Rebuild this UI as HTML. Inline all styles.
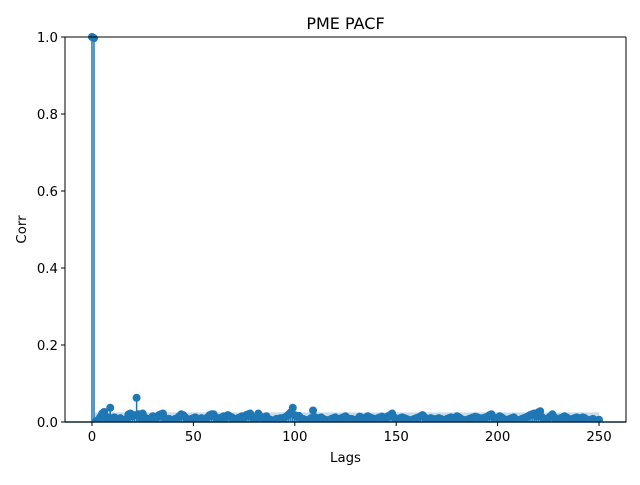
<!DOCTYPE html>
<html><head><meta charset="utf-8"><style>
body{margin:0;background:#fff}
svg text{font-family:"DejaVu Sans","Liberation Sans",sans-serif;fill:#000}
</style></head><body>
<svg id="chart" width="640" height="480">
<text x="345.5" y="29" font-size="16" text-anchor="middle">PME PACF</text>
<text x="345.5" y="462" font-size="13.3" text-anchor="middle">Lags</text>
<text transform="translate(26,229.5) rotate(-90)" font-size="13.3" text-anchor="middle">Corr</text>
<g id="plot"></g>
</svg>
<script>
const lags=[];for(let i=0;i<=250;i++)lags.push(i);
const values=[1.0,0.997,0.002,0.005,0.012,0.022,0.026,0.008,0.012,0.037,
0.01,0.012,0.008,0.005,0.01,0.006,0.004,0.008,0.02,0.022,
0.015,0.018,0.063,0.02,0.01,0.022,0.012,0.008,0.006,0.01,
0.015,0.008,0.012,0.018,0.02,0.022,0.01,0.006,0.008,0.004,
0.005,0.008,0.01,0.015,0.02,0.018,0.012,0.006,0.004,0.008,
0.01,0.012,0.008,0.006,0.01,0.004,0.006,0.012,0.018,0.02,
0.02,0.012,0.008,0.01,0.012,0.015,0.012,0.018,0.015,0.012,
0.008,0.006,0.01,0.012,0.015,0.012,0.018,0.02,0.022,0.012,
0.008,0.01,0.022,0.015,0.01,0.012,0.015,0.008,0.006,0.004,
0.005,0.008,0.006,0.01,0.008,0.012,0.015,0.02,0.025,0.037,
0.018,0.015,0.016,0.01,0.008,0.006,0.004,0.006,0.01,0.03,
0.012,0.008,0.01,0.012,0.008,0.006,0.005,0.004,0.008,0.01,
0.012,0.008,0.006,0.01,0.012,0.015,0.01,0.006,0.008,0.004,
0.006,0.008,0.014,0.01,0.008,0.012,0.015,0.012,0.01,0.008,
0.006,0.01,0.012,0.014,0.012,0.01,0.015,0.018,0.022,0.012,
0.008,0.006,0.01,0.012,0.01,0.008,0.006,0.004,0.006,0.008,
0.01,0.012,0.015,0.018,0.012,0.008,0.006,0.01,0.008,0.006,
0.008,0.01,0.008,0.006,0.004,0.008,0.01,0.012,0.01,0.008,
0.015,0.012,0.008,0.006,0.004,0.006,0.008,0.01,0.012,0.014,
0.012,0.01,0.008,0.01,0.012,0.014,0.018,0.02,0.012,0.008,
0.01,0.015,0.012,0.008,0.006,0.004,0.008,0.01,0.012,0.006,
0.004,0.006,0.008,0.01,0.012,0.015,0.018,0.02,0.022,0.015,
0.025,0.028,0.012,0.008,0.006,0.01,0.015,0.02,0.012,0.008,
0.006,0.01,0.012,0.015,0.012,0.008,0.006,0.008,0.01,0.012,
0.01,0.008,0.012,0.01,0.006,0.004,0.006,0.008,0.005,0.004,
0.006];
const confBand=0.025;
const xTicks=[0,50,100,150,200,250];
const yTicks=[0.0,0.2,0.4,0.6,0.8,1.0];
const L=65,R=626,T=37,B=422,xmin=-13.3,xmax=263.3;
const X=v=>L+(v-xmin)/(xmax-xmin)*(R-L);
const Y=v=>B-v*(B-T);
const NS='http://www.w3.org/2000/svg';
const g=document.getElementById('plot');
function mk(t,a){const e=document.createElementNS(NS,t);for(const k in a)e.setAttribute(k,a[k]);g.appendChild(e);return e;}
const cp=document.createElementNS(NS,'clipPath');cp.setAttribute('id','clip');
const cr=document.createElementNS(NS,'rect');cr.setAttribute('x',L);cr.setAttribute('y',T-6);cr.setAttribute('width',R-L);cr.setAttribute('height',B-T+6);cp.appendChild(cr);g.appendChild(cp);
const band=mk('rect',{x:X(1),y:Y(confBand),width:X(250)-X(1),height:Y(0)-Y(confBand),fill:'#1f77b4','fill-opacity':0.25,'clip-path':'url(#clip)'});


const zl=mk('line',{x1:L,x2:R,y1:Y(0),y2:Y(0),stroke:'#1f77b4','stroke-width':1.5});


lags.forEach((l,i)=>{
 const s=mk('line',{x1:X(l),x2:X(l),y1:Y(0),y2:Y(values[i]),stroke:'#1f77b4','stroke-width':1.5});
 
 
});
lags.forEach((l,i)=>{
 const c=mk('circle',{cx:X(l),cy:Y(values[i]),r:4,fill:'#1f77b4','clip-path':'url(#clip)'});
 
 
});
const fr=mk('path',{d:`M${L},${T}V${B}H${R}V${T}`,fill:'none',stroke:'#000','stroke-width':1});


const tp=mk('line',{x1:L,x2:R,y1:T,y2:T,stroke:'#000','stroke-width':1});


xTicks.forEach(t=>{
 mk('line',{x1:X(t),x2:X(t),y1:B,y2:B+4,stroke:'#000'});
 const e=mk('text',{x:X(t),y:B+19,'font-size':13.3,'text-anchor':'middle'});e.textContent=t;
 
 
});
yTicks.forEach(t=>{
 mk('line',{x1:L-4,x2:L,y1:Y(t),y2:Y(t),stroke:'#000'});
 const e=mk('text',{x:L-7,y:Y(t)+5,'font-size':13.3,'text-anchor':'end'});e.textContent=t.toFixed(1);
 
 
});
</script>
</body></html>
